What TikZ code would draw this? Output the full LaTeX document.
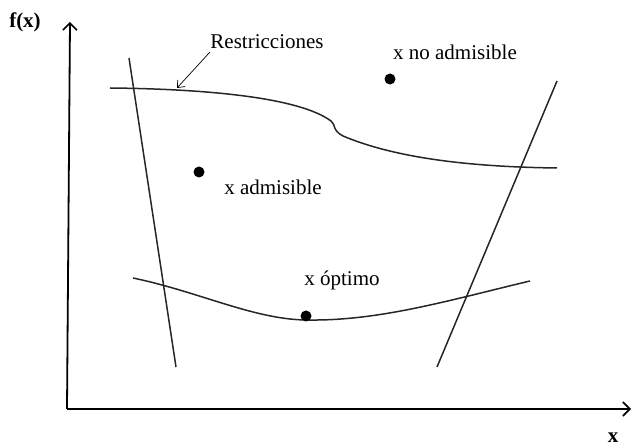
\documentclass[tikz,border=0pt]{standalone}
\usepackage{fontspec}
\setmainfont{Liberation Serif}
\usetikzlibrary{arrows.meta}
\begin{document}
\begin{tikzpicture}[x=1pt,y=-1pt,
  axis/.style={line width=1.8pt,-{Straight Barb[length=7pt,width=14pt,line width=1.6pt]}},
  curve/.style={line width=1.5pt, draw=black!85},
  lbl/.style={font=\fontsize{21}{23}\selectfont, inner sep=0pt},
  blbl/.style={font=\fontsize{21}{23}\selectfont\bfseries, inner sep=0pt},
  pt/.style={circle, fill=black, inner sep=0pt, minimum size=11pt}]
\useasboundingbox (0,0) rectangle (633,446);
% axes
\coordinate (o) at (67,409);
\coordinate (ytop) at (70,22);
\coordinate (xend) at (631,409);
\draw[axis] (o) -- (ytop);
\draw[axis] (o) -- (xend);
\node[blbl] (fx) at (25,22) {f(x)};
\node[blbl] (xl) at (613,438) {x};
% constraint lines
\coordinate (l1a) at (129,58);
\coordinate (l1b) at (176,367);
\coordinate (l2a) at (557,81);
\coordinate (l2b) at (437,367);
\draw[curve] (l1a) -- (l1b);
\draw[curve] (l2a) -- (l2b);
% top constraint curve
\coordinate (c1) at (110,88);
\coordinate (c2) at (331,121);
\coordinate (c3) at (343,136);
\coordinate (c4) at (557,168);
\draw[curve] (c1) .. controls (210,89) and (300,98) .. (c2)
  .. controls (336,125) and (332,130) .. (c3)
  .. controls (400,160) and (480,167) .. (c4);
% objective curve
\coordinate (b1) at (133,278);
\coordinate (b2) at (308,320);
\coordinate (b3) at (530,281);
\draw[curve] (b1) .. controls (200,292) and (255,320) .. (b2)
  .. controls (380,321) and (450,300) .. (b3);
% label with arrow
\node[lbl] (res) at (267,42) {Restricciones};
\coordinate (rest) at (177,88);
\draw[line width=0.7pt, -{Straight Barb[length=6pt,width=10pt]}] (210,52) -- (rest);
% points
\node[pt] (pna) at (390,79) {};
\node[lbl] (tna) at (455,52) {x no admisible};
\node[pt] (pa) at (199,172) {};
\node[lbl] (ta) at (273,187) {x admisible};
\node[pt] (po) at (306,316) {};
\node[lbl] (to) at (342,280) {x óptimo};
\end{tikzpicture}
\end{document}
